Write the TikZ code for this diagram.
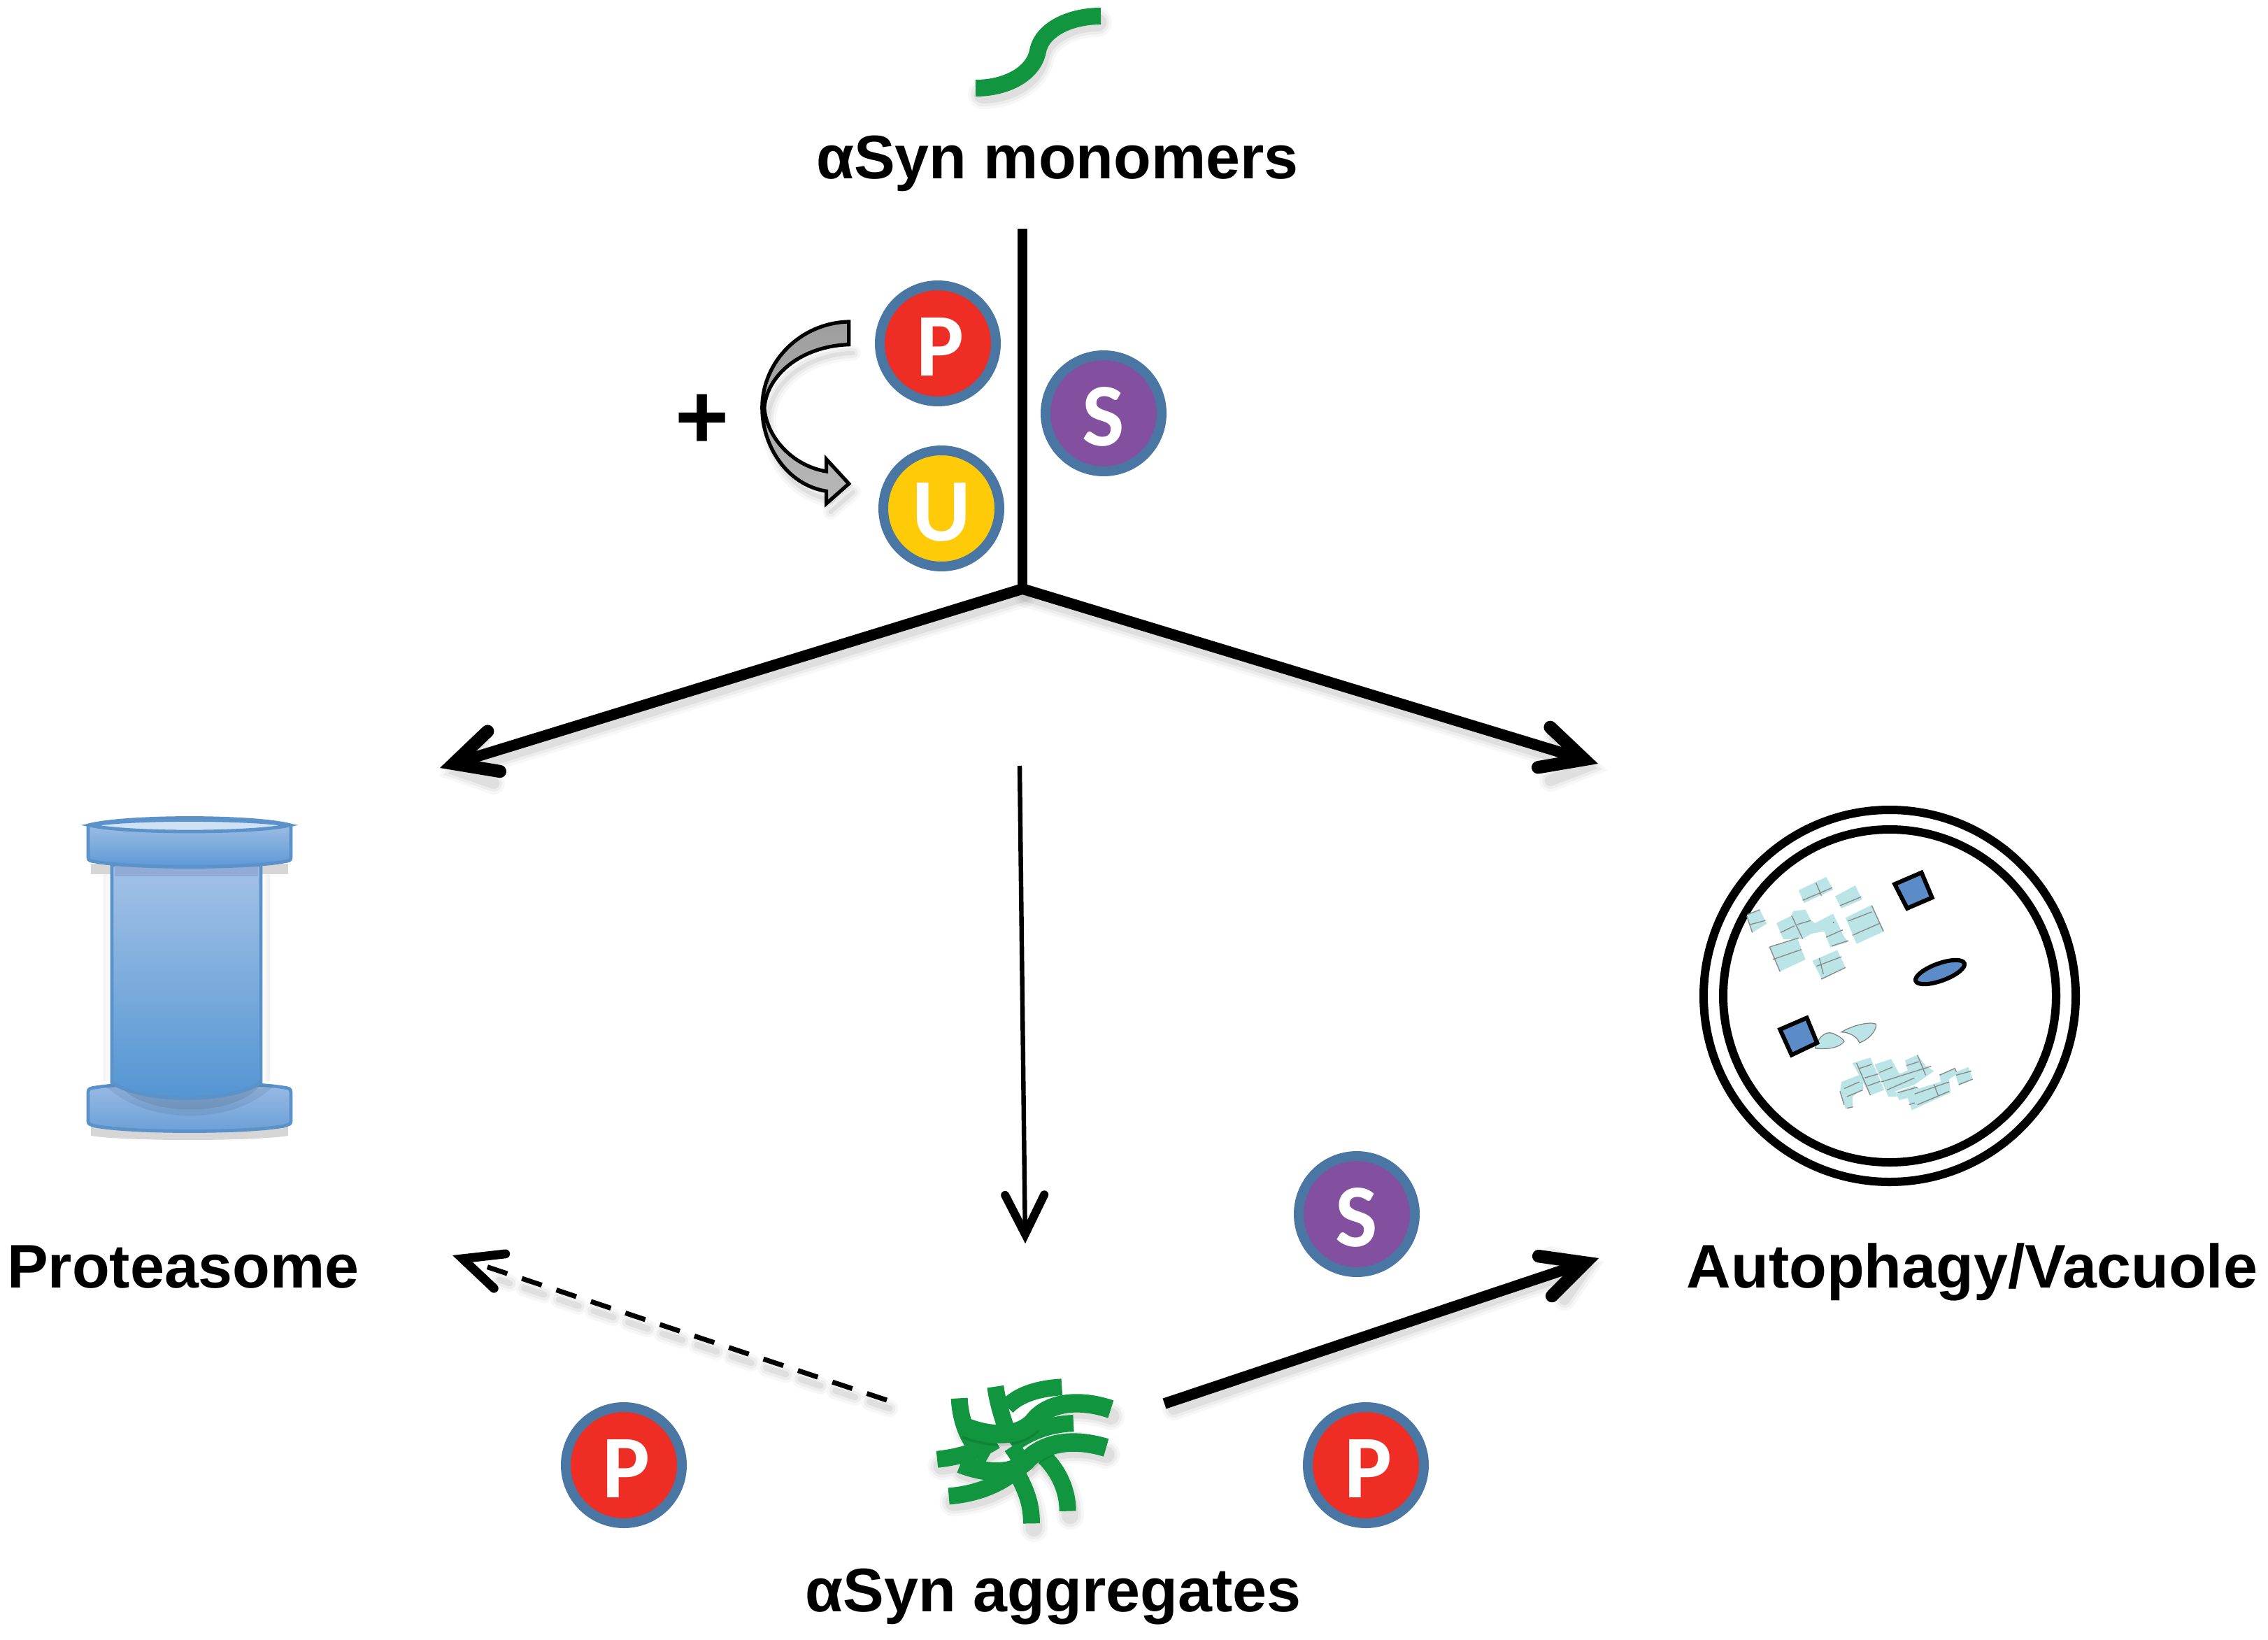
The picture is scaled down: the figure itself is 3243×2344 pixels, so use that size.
\documentclass[tikz,border=0pt]{standalone}
\usepackage{fontspec}
\setmainfont{Liberation Sans}
\newfontfamily\circfont{Carlito}
\usetikzlibrary{arrows.meta,calc,shapes.geometric}
\definecolor{ringblue}{HTML}{4A76A3}
\definecolor{pred}{HTML}{EE2E24}
\definecolor{uyellow}{HTML}{FFCB08}
\definecolor{spurple}{HTML}{83509F}
\definecolor{green1}{HTML}{12953F}
\definecolor{cellblue}{HTML}{BBE4E6}
\definecolor{vacblue}{HTML}{5B8CC8}
\definecolor{proline}{HTML}{5B92C9}
\definecolor{protopa}{HTML}{A3C2E6}
\definecolor{protopb}{HTML}{5294D2}
\definecolor{probar}{HTML}{8FABD6}
\definecolor{prodisca}{HTML}{A9C4E6}
\definecolor{prodiscb}{HTML}{5B98D6}
\definecolor{prolid}{HTML}{CFE1F4}
\definecolor{lowa}{HTML}{9BBCE5}
\definecolor{lowb}{HTML}{6A9FD8}
\tikzset{
  label text/.style={font=\bfseries\fontsize{22}{24}\selectfont,inner sep=0pt,anchor=base,text=black},
  modif/.style={circle,draw=ringblue,line width=3.5pt,minimum size=41.5pt,inner sep=0pt,text=white,
     text height=23pt,text depth=0pt,font=\circfont\bfseries\fontsize{32}{34}\selectfont},
  bigarrow/.style={line width=3.9pt,-{Straight Barb[length=15pt,width=15pt,line width=4.6pt,line cap=round,line join=miter]}},
  thinarrow/.style={line width=1.6pt,-{Straight Barb[length=14pt,width=14pt,line width=3pt,line cap=round,line join=miter]}},
  dasharrow/.style={line width=1.75pt,dash pattern=on 7.5pt off 5.5pt,-{Straight Barb[length=14pt,width=13pt,line width=3.2pt,line cap=round,line join=miter]}},
  strand/.style={draw=green1,line width=6pt},
  bigstrand/.style={draw=green1,line width=6.6pt},
  cell/.style={fill=cellblue,draw=none},
  gl/.style={draw=black!45,line width=0.35pt},
  vacshape/.style={fill=vacblue,draw=black,line width=1.5pt},
  ring/.style={circle,draw=black,inner sep=0pt,line width=3pt},
}
\newcommand{\softshadow}[3][3,8]{%
  \begin{scope}[shift={(#1)},line cap=round]
    \draw[black,opacity=.03,line width=#2+5pt] #3;
    \draw[black,opacity=.04,line width=#2+3pt] #3;
    \draw[black,opacity=.06,line width=#2+1pt] #3;
  \end{scope}}
\begin{document}
\begin{tikzpicture}[x=0.25pt,y=-0.25pt]
\useasboundingbox (0,0) rectangle (3243,2344);

% ---- labels
\node[label text] (mono) at (1512,255) {αSyn monomers};
\node[label text] (prot) at (262,1841) {Proteasome};
\node[label text] (auto) at (2820,1841) {Autophagy/Vacuole};
\node[label text] (aggr) at (1506,2304) {αSyn aggregates};
\node[font=\bfseries\fontsize{33}{35}\selectfont,inner sep=0pt] (plus) at (1004,603) {+};

% ---- monomer
\softshadow[3,9]{5.5pt}{(1402,126) .. controls (1440,126) and (1478,105) .. (1484,73) .. controls (1490,42) and (1530,23) .. (1566,23)}
\draw[strand] (1395,126) .. controls (1440,126) and (1478,105) .. (1484,73) .. controls (1490,42) and (1530,23) .. (1574,23);

% ---- junction coordinates
\coordinate (top) at (1462,327);
\coordinate (fork) at (1462,842);
\coordinate (leftTip) at (629,1098);
\coordinate (rightTip) at (2285,1092);
\coordinate (midStart) at (1458,1095);
\coordinate (midTip) at (1466,1778);
\coordinate (aggR) at (1665,2007);
\coordinate (autoTip) at (2286,1799);
\coordinate (aggL) at (1268,2002);
\coordinate (protTip) at (647,1795);

% shadows of connectors
\softshadow[4,10]{3pt}{(1462,842) -- (650,1092) (683,1051) -- (650,1092) -- (702,1110)}
\softshadow[4,10]{3pt}{(1462,842) -- (2265,1086) (2219,1044) -- (2265,1086) -- (2213,1106)}
\softshadow{3pt}{(1675,2007) -- (2265,1805) (2215,1790) -- (2265,1805) -- (2234,1850)}
\softshadow[4,12]{1.2pt}{[dash pattern=on 7.5pt off 5.5pt] (1268,2002) -- (710,1818)}

% ---- connectors
\draw[line width=3.7pt] (top) -- (fork);
\draw[bigarrow] (fork) -- (leftTip);
\draw[bigarrow] (fork) -- (rightTip);
\draw[thinarrow] (midStart) -- (midTip);
\draw[bigarrow] (aggR) -- (autoTip);
\draw[dasharrow] (aggL) -- (protTip);

% ---- curved grey arrow
\begin{scope}[shift={(900,370)},xscale=1/1.96,yscale=1/3]
  \softshadow[12,36]{0.5pt}{(615,368) .. controls (480,375) and (385,500) .. (378,640) .. controls (372,800) and (440,970) .. (552,997) (552,1050) -- (615,965)}
  \fill[black,opacity=.08] (552,997) -- (552,1070) -- (630,970) -- cycle;
  \draw[black,line width=1.3pt,line join=miter,top color=black!38,bottom color=black!28]
    (615,270) -- (615,368) .. controls (480,375) and (385,500) .. (378,640)
    .. controls (385,770) and (460,890) .. (552,912) -- (552,860) -- (615,965) -- (552,1050) -- (552,997)
    .. controls (440,970) and (372,800) .. (372,640) .. controls (372,440) and (480,275) .. (615,270) -- cycle;
\end{scope}

% ---- modification circles
\node[modif,fill=pred] (P1) at (1341,491) {\hspace*{2pt}P};
\node[modif,fill=uyellow] (U1) at (1346,727) {U};
\node[modif,fill=spurple] (S1) at (1578,591) {S};
\node[modif,fill=spurple] (S2) at (1940,1736) {S};
\node[modif,fill=pred] (P2) at (1953,2095) {\hspace*{2pt}P};
\node[modif,fill=pred] (P3) at (892,2095) {\hspace*{2pt}P};

% ---- proteasome
\fill[black!16] (130,1235) rectangle (412,1250);
\fill[black!16] (130,1610) .. controls (180,1620) and (362,1620) .. (412,1610) -- (412,1624) .. controls (362,1632) and (180,1632) .. (130,1624) -- cycle;
\shade[left color=white,right color=black!7] (374,1250) rectangle (386,1545);
\shade[left color=black!5,right color=white] (148,1250) rectangle (159,1545);
% bottom disc
\shade[top color=lowa,bottom color=lowb,draw=proline,line width=1.2pt]
  (126,1562) .. controls (126,1556) and (130,1556) .. (136,1555) .. controls (190,1546) and (352,1546) .. (406,1555)
  .. controls (412,1556) and (416,1556) .. (416,1562) -- (416,1603) .. controls (416,1608) and (412,1608) .. (406,1610)
  .. controls (352,1620) and (190,1620) .. (136,1610) .. controls (130,1608) and (126,1608) .. (126,1603) -- cycle;
\fill[black,opacity=.08] (170,1552) .. controls (210,1598) and (335,1598) .. (372,1552) -- cycle;
\fill[black,opacity=.07] (150,1552) .. controls (210,1610) and (335,1610) .. (392,1552) -- cycle;
% body
\shade[top color=protopa,bottom color=protopb,draw=proline,line width=1.2pt]
  (160,1237) -- (160,1548) .. controls (205,1578) and (328,1578) .. (373,1548) -- (373,1237) -- cycle;
\fill[probar] (164,1238) rectangle (369,1253);
% top disc
\shade[top color=prodisca,bottom color=prodiscb,draw=proline,line width=1.2pt]
  (126,1180) -- (126,1226) .. controls (126,1231) and (130,1231) .. (136,1232) .. controls (190,1242) and (352,1242) .. (406,1232)
  .. controls (412,1231) and (416,1231) .. (416,1226) -- (416,1180) .. controls (362,1166) and (180,1166) .. (126,1180) -- cycle;
\fill[prolid,draw=proline,line width=1.2pt] (128,1180) .. controls (180,1170) and (362,1170) .. (414,1180)
  .. controls (362,1192) and (180,1192) .. (128,1180) -- cycle;

% ---- aggregates
\begin{scope}[shift={(1280,1920)},xscale=1/3,yscale=1/3]
  \softshadow[10,30]{5pt}{(240,655) .. controls (330,650) and (420,620) .. (490,570) (525,565) .. controls (560,630) and (585,690) .. (585,765) (640,490) .. controls (700,550) and (740,630) .. (740,712) (190,500) .. controls (280,490) and (370,460) .. (430,420) (300,360) .. controls (400,400) and (520,410) .. (590,340) .. controls (640,270) and (760,230) .. (915,285)  (280,520) .. controls (380,560) and (500,570) .. (560,510) .. controls (620,440) and (740,400) .. (895,450)}
  \draw[strand] (715,190) .. controls (620,195) and (530,220) .. (480,275);
  \draw[strand] (430,188) .. controls (440,260) and (460,320) .. (480,380);
  \draw[strand] (500,445) -- (530,490);
  \draw[strand] (275,238) .. controls (280,340) and (320,450) .. (400,490);
  \draw[strand] (180,500) .. controls (280,490) and (370,460) .. (430,420);
  \draw[strand] (230,658) .. controls (330,650) and (420,620) .. (490,570);
  \draw[strand] (525,565) .. controls (560,630) and (585,690) .. (585,775);
  \draw[strand] (640,490) .. controls (700,550) and (740,630) .. (740,722);
  \draw[strand] (765,345) .. controls (650,350) and (560,390) .. (500,440);
  \draw[black,opacity=.10,line width=7pt] (300,370) .. controls (400,410) and (520,420) .. (590,350);
  \draw[bigstrand] (300,360) .. controls (400,400) and (520,410) .. (590,340) .. controls (640,270) and (760,230) .. (925,285);
  \draw[black,opacity=.10,line width=7pt] (560,520) .. controls (620,450) and (700,420) .. (800,425);
  \draw[bigstrand] (280,520) .. controls (380,560) and (500,570) .. (560,510) .. controls (620,440) and (740,400) .. (905,450);
\end{scope}

% ---- vacuole
\node[ring,minimum size=133pt] (vacOut) at (2702,1424) {};
\node[ring,minimum size=119pt] (vacIn) at (2702,1424) {};
\begin{scope}[shift={(2380,1120)},xscale=1/2.53,yscale=1/2.6]
  % upper cluster
  \fill[cell] (485,398) -- (585,348) -- (610,395) -- (505,445) -- cycle;
  \draw[gl] (500,435) -- (607,388) (548,370) -- (568,418);
  \fill[cell] (617,420) -- (690,380) -- (715,432) -- (640,465) -- cycle;
  \draw[gl] (635,455) -- (712,422);
  \fill[cell] (298,490) -- (345,470) -- (370,522) -- (318,555) -- cycle;
  \draw[gl] (300,488) -- (345,470) (310,525) -- (365,510) (298,495) -- (318,555);
  \fill[cell] (405,520) -- (460,492) -- (465,475) -- (510,470) -- (530,510) -- (545,520) -- (610,485) -- (650,570) -- (665,590) -- (600,610) -- (578,550) -- (530,560) -- (500,578) -- (430,580) -- cycle;
  \draw[gl] (420,555) -- (470,530) (460,492) -- (500,578) (480,525) -- (530,510) (585,572) -- (645,545) (605,605) -- (665,585);
  \fill[black!60] (611,517) circle [radius=0.6pt];
  \fill[cell] (655,500) -- (750,452) -- (795,550) -- (695,597) -- cycle;
  \draw[gl] (665,512) -- (750,478) (680,565) -- (780,520) (750,455) -- (792,550);
  \fill[cell] (380,608) -- (480,575) -- (510,655) -- (418,700) -- cycle;
  \draw[gl] (382,608) -- (485,575) (392,655) -- (495,618) (380,608) -- (418,700);
  \fill[cell] (535,660) -- (625,620) -- (655,685) -- (570,730) -- cycle;
  \draw[gl] (550,680) -- (640,645) (560,650) -- (575,710) (567,728) -- (655,685);
  % lower cluster
  \fill[cell] (640,1110) -- (715,1080) -- (720,1135) -- (680,1165) -- (680,1205) -- (655,1210) -- (635,1145) -- cycle;
  \draw[gl] (650,1135) -- (705,1110) (635,1145) -- (650,1195) (660,1165) -- (718,1140) (660,1208) -- (682,1203);
  \fill[cell] (680,1040) -- (745,1020) -- (795,1140) -- (745,1160) -- cycle;
  \draw[gl] (695,1040) -- (745,1160) (705,1060) -- (750,1045) (725,1095) -- (775,1080) (735,1125) -- (780,1108);
  \fill[cell] (760,1045) -- (820,1025) -- (850,1080) -- (880,1068) -- (870,1030) -- (915,1010) -- (945,1050) -- (975,1070) -- (940,1095) -- (905,1120) -- (835,1145) -- (840,1165) -- (810,1165) -- cycle;
  \draw[gl] (778,1075) -- (825,1055) (785,1110) -- (965,1052) (805,1140) -- (905,1095) (875,1050) -- (920,1035) (915,1010) -- (945,1085);
  \fill[cell] (835,1150) -- (905,1125) -- (920,1135) -- (1030,1100) -- (1035,1150) -- (895,1215) -- (880,1170) -- (850,1178) -- cycle;
  \draw[gl] (905,1155) -- (1030,1110) (975,1120) -- (990,1160) (885,1195) -- (905,1188) (915,1195) -- (1030,1145) (845,1150) -- (915,1130);
  \fill[cell] (995,1085) -- (1050,1060) -- (1060,1080) -- (1030,1100) -- (1000,1110) -- cycle;
  \draw[gl] (995,1085) -- (1050,1060) -- (1060,1080);
  \fill[cell] (1050,1075) -- (1100,1055) -- (1115,1100) -- (1065,1125) -- cycle;
  \draw[gl] (1055,1085) -- (1110,1070) (1065,1120) -- (1115,1100);
  % blobs
  \fill[cell,draw=black!50,line width=.3pt] (545,985) .. controls (560,935) and (590,915) .. (620,935) .. controls (640,945) and (650,955) .. (650,960) .. controls (630,985) and (590,990) .. (545,985) -- cycle;
  \fill[cell,draw=black!50,line width=.3pt] (640,925) .. controls (680,900) and (740,885) .. (765,895) .. controls (770,920) and (735,955) .. (705,965) .. controls (700,945) and (670,925) .. (640,925) -- cycle;
  % blue shapes
  \draw[vacshape,line join=miter] (833,375) -- (930,332) -- (968,425) -- (878,465) -- cycle;
  \draw[vacshape,line join=miter] (418,915) -- (515,872) -- (552,965) -- (460,1010) -- cycle;
\end{scope}
\node[ellipse,vacshape,rotate=20,minimum width=18.5pt,minimum height=6.2pt,inner sep=0pt] (vacEll) at (2774,1390) {};
\end{tikzpicture}
\end{document}
